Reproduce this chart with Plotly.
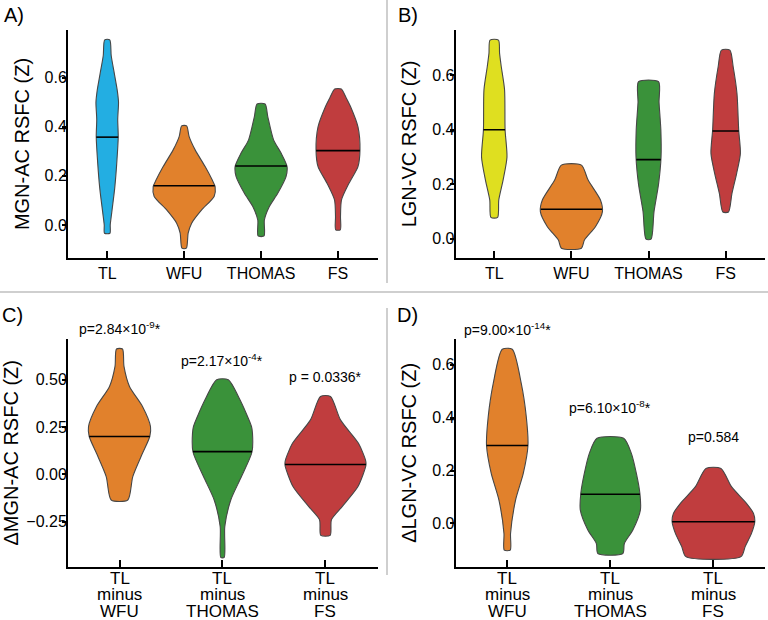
import numpy as np
import plotly.graph_objects as go

# categories and tick labels
TOP_CATS = ["TL", "WFU", "THOMAS", "FS"]
BOTTOM_CATS = [["TL", "minus", "WFU"], ["TL", "minus", "THOMAS"], ["TL", "minus", "FS"]]

# panel A: MGN-AC RSFC, violin profiles (z level -> relative density), medians
A_LEVELS = {
    "TL": [0.755, 0.69, 0.62, 0.55, 0.50, 0.43, 0.36, 0.25, 0.15, 0.05, 0.0, -0.034],
    "WFU": [0.404, 0.36, 0.306, 0.238, 0.184, 0.156, 0.116, 0.061, 0.007, -0.034, -0.095],
    "THOMAS": [0.493, 0.442, 0.347, 0.293, 0.238, 0.197, 0.129, 0.075, 0.02, -0.045],
    "FS": [0.554, 0.52, 0.483, 0.40, 0.306, 0.238, 0.17, 0.102, 0.034, -0.02],
}
A_DENS = {
    "TL": [2.5, 4, 7, 10, 11.3, 10.5, 11, 9.5, 7.5, 4.5, 3, 2.7],
    "WFU": [2.5, 5, 11, 21, 28, 31, 30, 17.5, 7.5, 4, 2.2],
    "THOMAS": [4, 6.7, 12.5, 20, 26, 25, 16.7, 8.3, 3.3, 3],
    "FS": [3.3, 8, 12.5, 20, 22, 20, 11, 3.5, 2.5, 2.3],
}
A_MEDIANS = [0.358, 0.16, 0.24, 0.303]

# panel B: LGN-VC RSFC
B_LEVELS = {
    "TL": [0.729, 0.68, 0.631, 0.546, 0.40, 0.30, 0.215, 0.142, 0.078],
    "WFU": [0.27, 0.215, 0.142, 0.099, 0.044, -0.005, -0.035],
    "THOMAS": [0.576, 0.5, 0.4, 0.3, 0.2, 0.1, -0.002],
    "FS": [0.692, 0.631, 0.533, 0.40, 0.313, 0.24, 0.166, 0.098],
}
B_DENS = {
    "TL": [4.2, 5.3, 7, 10.3, 10.8, 12.7, 8.8, 4.5, 3.3],
    "WFU": [10, 16.7, 29, 31, 24, 13, 10],
    "THOMAS": [10, 10.5, 12.3, 12.5, 10, 5.5, 2.5],
    "FS": [4.2, 7.5, 11.3, 13, 14.7, 11, 6.3, 2.8],
}
B_MEDIANS = [0.40, 0.108, 0.29, 0.395]

# panel C: delta MGN-AC RSFC
C_LEVELS = {
    "WFU": [0.663, 0.571, 0.465, 0.359, 0.253, 0.2, 0.111, -0.012, -0.136],
    "THOMAS": [0.50, 0.394, 0.253, 0.217, 0.118, -0.012, -0.136, -0.277, -0.44],
    "FS": [0.412, 0.288, 0.164, 0.076, 0.049, -0.065, -0.171, -0.24, -0.323],
}
C_DENS = {
    "WFU": [3, 4.5, 10, 23, 31, 30.3, 23, 13.3, 8.3],
    "THOMAS": [5.8, 17.5, 29, 30, 29.5, 19, 8.3, 2.3, 1.7],
    "FS": [5, 15, 33, 40, 40.5, 32.5, 16.7, 6, 4.7],
}
C_MEDIANS = [0.2, 0.12, 0.052]
C_PVALUES = ["p=2.84×10<sup>-9</sup>*", "p=2.17×10<sup>-4</sup>*", "p = 0.0336*"]

# panel D: delta LGN-VC RSFC
D_LEVELS = {
    "WFU": [0.659, 0.53, 0.404, 0.295, 0.189, 0.088, -0.038, -0.101],
    "THOMAS": [0.322, 0.265, 0.189, 0.114, 0.05, -0.025, -0.076, -0.114],
    "FS": [0.208, 0.139, 0.076, 0.038, 0.006, -0.038, -0.088, -0.126],
}
D_DENS = {
    "WFU": [5, 14, 19, 20.7, 16, 8.3, 3.3, 3],
    "THOMAS": [13.3, 21, 26, 29.5, 30, 22.5, 14, 12.5],
    "FS": [7.5, 18, 33, 40, 41.3, 38, 31.7, 27.5],
}
D_MEDIANS = [0.295, 0.11, 0.006]
D_PVALUES = ["p=9.00×10<sup>-14</sup>*", "p=6.10×10<sup>-8</sup>*", "p=0.584"]

BLUE = "#23aee2"
YELLOW = "#dfdf20"
ORANGE = "#e1812c"
GREEN = "#3a923a"
RED = "#c03d3e"
FONT = "Liberation Sans, Arial, sans-serif"
W, H = 768, 620

fig = go.Figure()


def add_violins(levels, dens, medians, colors, axis, scale):
    xa = "x" + axis
    ya = "y" + axis
    for i, key in enumerate(levels):
        y = np.array(levels[key])
        w = np.array(dens[key]) * scale
        xs = np.concatenate([i + w, (i - w)[::-1], [i + w[0]]])
        ys = np.concatenate([y, y[::-1], [y[0]]])
        fig.add_trace(go.Scatter(
            x=xs, y=ys, mode="lines", fill="toself", fillcolor=colors[i],
            line=dict(color="#474747", width=1.1, shape="spline", smoothing=0.7),
            xaxis=xa, yaxis=ya, showlegend=False, hoverinfo="skip"))
        hw = np.interp(medians[i], y[::-1], w[::-1])
        fig.add_trace(go.Scatter(
            x=[i - hw, i + hw], y=[medians[i], medians[i]], mode="lines",
            line=dict(color="black", width=1.6),
            xaxis=xa, yaxis=ya, showlegend=False, hoverinfo="skip"))


add_violins(A_LEVELS, A_DENS, A_MEDIANS, [BLUE, ORANGE, GREEN, RED], "", 1 / 77)
add_violins(B_LEVELS, B_DENS, B_MEDIANS, [YELLOW, ORANGE, GREEN, RED], "2", 1 / 77)
add_violins(C_LEVELS, C_DENS, C_MEDIANS, [ORANGE, GREEN, RED], "3", 1 / 103)
add_violins(D_LEVELS, D_DENS, D_MEDIANS, [ORANGE, GREEN, RED], "4", 1 / 103)

left_dom = [68 / W, 378 / W]
right_dom = [455.7 / W, 765 / W]
top_dom = [1 - 258 / H, 1 - 30 / H]
bot_dom = [1 - 566.7 / H, 1 - 339 / H]

xbase = dict(showline=True, linecolor="black", linewidth=2, showgrid=False,
             zeroline=False, ticks="inside", ticklen=7, tickwidth=1.5,
             tickcolor="black", tickfont=dict(size=16, color="black"),
             automargin=False)
ybase = dict(showline=True, linecolor="black", linewidth=2, showgrid=False,
             zeroline=False, ticks="outside", ticklen=4, tickwidth=1.5,
             tickcolor="black", tickfont=dict(size=16, color="black"),
             ticklabelstandoff=-8, automargin=False,
             title_font=dict(size=20, color="black"), title_standoff=10)

fig.update_layout(
    width=W, height=H, margin=dict(l=0, r=0, t=0, b=0, autoexpand=False),
    paper_bgcolor="white", plot_bgcolor="white",
    font=dict(family=FONT, color="black"),
    xaxis=dict(xbase, domain=left_dom, anchor="y", range=[-0.51, 3.52],
               tickvals=list(range(4)), ticktext=TOP_CATS),
    yaxis=dict(ybase, domain=top_dom, anchor="x", range=[-0.135, 0.795],
               tickvals=[0, 0.2, 0.4, 0.6], tickformat=".1f",
               title_text="MGN-AC RSFC (Z)"),
    xaxis2=dict(xbase, domain=right_dom, anchor="y2", range=[-0.5, 3.51],
                tickvals=list(range(4)), ticktext=TOP_CATS),
    yaxis2=dict(ybase, domain=top_dom, anchor="x2", range=[-0.071, 0.766],
                tickvals=[0, 0.2, 0.4, 0.6], tickformat=".1f",
                title_text="LGN-VC RSFC (Z)"),
    xaxis3=dict(xbase, domain=left_dom, anchor="y3", range=[-0.5, 2.51],
                tickvals=list(range(3)), showticklabels=False),
    yaxis3=dict(ybase, domain=bot_dom, anchor="x3", range=[-0.489, 0.716],
                tickvals=[-0.25, 0, 0.25, 0.5], tickformat=".2f",
                title_text="ΔMGN-AC RSFC (Z)"),
    xaxis4=dict(xbase, domain=right_dom, anchor="y4", range=[-0.5, 2.5],
                tickvals=list(range(3)), showticklabels=False),
    yaxis4=dict(ybase, domain=bot_dom, anchor="x4", range=[-0.164, 0.698],
                tickvals=[0, 0.2, 0.4, 0.6], tickformat=".1f",
                title_text="ΔLGN-VC RSFC (Z)"),
)

# bottom category labels, one line per annotation for tight line spacing
line_y = [578, 594.5, 611]
for xr in ["x3", "x4"]:
    for i, lines in enumerate(BOTTOM_CATS):
        for j, txt in enumerate(lines):
            fig.add_annotation(x=i, y=1 - line_y[j] / H, xref=xr, yref="paper",
                               text=txt, showarrow=False, yanchor="middle",
                               font=dict(size=17, color="black"))

# p-value labels
pv_x = [0, 1, 2]
for i, txt in enumerate(C_PVALUES):
    fig.add_annotation(x=pv_x[i], y=1 - [328, 360, 377][i] / H, xref="x3",
                       yref="paper", text=txt, showarrow=False,
                       font=dict(size=14, color="black"))
for i, txt in enumerate(D_PVALUES):
    fig.add_annotation(x=pv_x[i], y=1 - [329, 418, 446.5][i] / H, xref="x4",
                       yref="paper", text=txt, showarrow=False,
                       font=dict(size=14, color="black"))

# panel letters
for letter, px, py in [("A)", 2, 15), ("B)", 396, 15), ("C)", 0, 315), ("D)", 395, 315)]:
    fig.add_annotation(x=px / W, y=1 - py / H, xref="paper", yref="paper",
                       text=letter, showarrow=False, xanchor="left",
                       yanchor="middle", font=dict(size=20, color="black"))

# separator lines between panels
sep = dict(color="#cfcfcf", width=2)
fig.add_shape(type="line", xref="paper", yref="paper", x0=0, x1=1,
              y0=1 - 292 / H, y1=1 - 292 / H, line=sep)
fig.add_shape(type="line", xref="paper", yref="paper", x0=387 / W, x1=387 / W,
              y0=1 - 283 / H, y1=1, line=sep)
fig.add_shape(type="line", xref="paper", yref="paper", x0=387 / W, x1=387 / W,
              y0=1 - 575 / H, y1=1 - 308 / H, line=sep)

# drop the page's default body margin so the figure sits at the window corner
fig.write_html("out.html", config={"displayModeBar": False},
               post_script="document.body.style.margin = '0';")
